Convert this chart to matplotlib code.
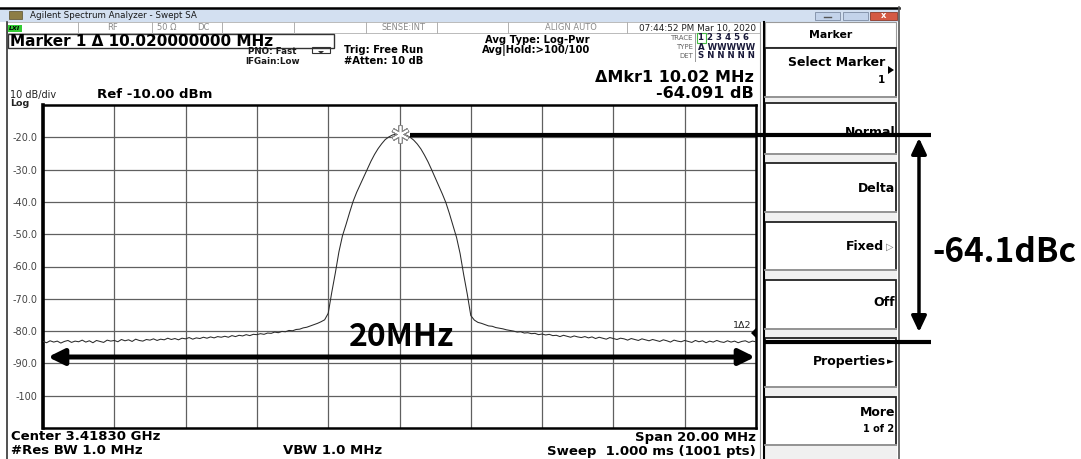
import numpy as np
import matplotlib.pyplot as plt
from matplotlib.patches import Rectangle, Polygon

W, H = 1081, 459

# trace, one point per 0.1 MHz from centre -10 MHz to +10 MHz
level_left = [
    -83.2, -83.6, -83.0, -83.4, -83.1, -83.7, -83.2, -82.9, -83.5, -83.1,
    -83.3, -82.8, -83.4, -83.0, -83.6, -82.9, -83.2, -83.5, -82.8, -83.1,
    -82.9, -83.3, -82.6, -83.0, -82.7, -83.2, -82.5, -82.9, -83.1, -82.6,
    -82.8, -82.4, -82.9, -82.5, -82.7, -82.2, -82.6, -82.3, -82.7, -82.2,
    -82.4, -82.0, -82.5, -82.1, -82.3, -81.9, -82.2, -81.8, -82.1, -81.7,
    -81.9, -81.6, -81.9, -81.4, -81.7, -81.3, -81.5, -81.1, -81.4, -81.0,
    -81.1, -80.8, -81.0, -80.6, -80.7, -80.3, -80.5, -80.1, -80.2, -79.8,
    -79.9, -79.5, -79.4, -79.0, -78.8, -78.4, -78.0, -77.6, -77.1, -76.5,
]
level_main = [
    -74.5, -68.0, -62.0, -55.5, -50.5, -47.0, -43.3, -39.8, -37.0, -34.6,
    -32.2, -29.8, -27.4, -25.3, -23.5, -22.0, -20.7, -19.9, -19.3, -19.0,
    -18.9,
    -19.0, -19.4, -20.0, -20.9, -22.1, -23.6, -25.5, -27.6, -30.0, -32.5,
    -35.0, -37.5, -40.2, -43.6, -47.3, -51.0, -56.0, -62.5, -68.5, -75.2,
]
level_right = [
    -76.6, -77.3, -77.6, -78.0, -78.4, -78.5, -78.9, -79.1, -79.3, -79.6,
    -79.8, -80.0, -80.3, -80.2, -80.6, -80.5, -80.8, -80.7, -81.1, -80.9,
    -81.2, -81.0, -81.4, -81.3, -81.7, -81.3, -81.6, -81.9, -81.5, -81.8,
    -82.0, -81.7, -82.1, -81.8, -82.3, -81.9, -82.2, -82.5, -82.0, -82.3,
    -82.6, -82.2, -82.4, -82.8, -82.3, -82.6, -82.9, -82.4, -82.7, -83.0,
    -82.6, -82.9, -83.2, -82.7, -83.0, -83.4, -82.8, -83.1, -83.3, -82.9,
    -83.2, -83.5, -82.9, -83.3, -83.0, -83.6, -83.1, -83.4, -82.9, -83.3,
    -83.5, -83.0, -83.4, -83.1, -83.6, -83.2, -83.0, -83.5, -83.1, -83.3,
]
level_dbm = level_left + level_main + level_right
freq_mhz = np.linspace(-10, 10, len(level_dbm))   # sweep points are evenly spaced

peak_mhz, peak_dbm = 0.0, -18.9
y_ticks = [-20, -30, -40, -50, -60, -70, -80, -90, -100]
y_tick_labels = ["-20.0", "-30.0", "-40.0", "-50.0", "-60.0", "-70.0", "-80.0", "-90.0", "-100"]

BIG = ["Noto Sans CJK JP", "DejaVu Sans"]

fig = plt.figure(figsize=(W / 100, H / 100), dpi=100)
fig.patch.set_facecolor("white")

# ---- trace window
ax = fig.add_axes([43 / W, 1 - 428 / H, (756 - 43) / W, (428 - 105) / H])
ax.plot(freq_mhz, level_dbm, color="#2a2a2a", lw=0.75, zorder=3)
ax.plot([peak_mhz], [peak_dbm], marker=(6, 2, 0), ms=13, mew=3.2, color="#8a8a8a", zorder=4)
ax.plot([peak_mhz], [peak_dbm], marker=(6, 2, 0), ms=12, mew=1.2, color="white", zorder=5)
ax.set_xlim(-10, 10)
ax.set_ylim(-110, -10)
ax.set_xticks(np.arange(-10, 11, 2))
ax.set_yticks(y_ticks)
ax.set_yticklabels(y_tick_labels, fontsize=7, color="#444444")
ax.tick_params(length=0, pad=4, labelbottom=False)
ax.grid(True, color="#606060", lw=0.9)
ax.set_axisbelow(True)
for s in ax.spines.values():
    s.set_linewidth(1.8)
    s.set_color("black")
ax.spines["left"].set_linewidth(2.6)

# ---- screen chrome + annotations in pixel coords
ov = fig.add_axes([0, 0, 1, 1], zorder=5)
ov.set_xlim(0, W)
ov.set_ylim(H, 0)
ov.axis("off")

def txt(x, y, s, size=8, ha="left", weight="bold", color="black", **kw):
    ov.text(x, y, s, fontsize=size, ha=ha, va="center", fontweight=weight, color=color, **kw)

def box(x0, y0, x1, y1, fc="none", ec="black", lw=1.0, z=1):
    ov.add_patch(Rectangle((x0, y0), x1 - x0, y1 - y0, fc=fc, ec=ec, lw=lw, zorder=z))

# window frame and title bar
ov.plot([0, 899], [7.5, 7.5], color="black", lw=1.8)
box(0, 8.5, 899, 22, fc="#d3e0f1", ec="none")
box(9, 11, 22, 19, fc="#8d7d45", ec="#5a4f2a", lw=0.5)
txt(30, 15.5, "Agilent Spectrum Analyzer - Swept SA", size=6.3, weight="normal", color="#1a1a1a")
box(815, 12, 840, 20, fc="#c3d3ea", ec="#7d8ca3", lw=0.6)
box(843, 12, 868, 20, fc="#c3d3ea", ec="#7d8ca3", lw=0.6)
box(870, 12, 897, 20, fc="#d45a45", ec="#8c3a2c", lw=0.6)
ov.plot([824, 831], [17, 17], color="#555", lw=1)
txt(883.5, 16, "x", size=6, ha="center", color="white")
ov.plot([899, 899], [7, H], color="#555555", lw=1.2)

# status row
box(7, 22, 760, 33, fc="white", ec="#b0b0b0", lw=0.6)
box(8, 24.5, 22, 32, fc="#33cc33", ec="none")
txt(9, 28.5, "LXI", size=4.5, style="italic")
for sx in [78, 152, 222, 294, 366, 437, 508, 627]:
    ov.plot([sx, sx], [22, 33], color="#b0b0b0", lw=0.7)
txt(113, 28, "RF", size=6, ha="center", weight="normal", color="#8a8a8a")
txt(167, 28, "50 Ω", size=6, ha="center", weight="normal", color="#8a8a8a")
txt(203, 28, "DC", size=6, ha="center", weight="normal", color="#8a8a8a")
txt(403, 28, "SENSE:INT", size=6, ha="center", weight="normal", color="#8a8a8a")
txt(571, 28, "ALIGN AUTO", size=6, ha="center", weight="normal", color="#8a8a8a")
txt(756, 28, "07:44:52 PM Mar 10, 2020", size=6.4, ha="right", weight="normal", color="#222222")
ov.plot([7, 7], [22, H], color="#333333", lw=1.2)

# marker line and settings
box(8, 34, 334, 47.5, ec="#333333", lw=1.0)
txt(10, 41, "Marker 1 Δ 10.020000000 MHz", size=11)
txt(272, 52, "PNO: Fast", size=6.3, ha="center", color="#1a1a1a")
txt(273, 62, "IFGain:Low", size=6.3, ha="center", color="#1a1a1a")
ov.add_patch(Rectangle((312, 47), 18, 6, fc="none", ec="#333", lw=0.8))
ov.add_patch(Polygon([[318, 51], [324, 51], [321, 54]], closed=True, fc="#333", ec="none"))
txt(344, 50, "Trig: Free Run", size=7.2)
txt(344, 61, "#Atten: 10 dB", size=7.2)
txt(485, 40, "Avg Type: Log-Pwr", size=7.2)
txt(482, 50, "Avg|Hold:>100/100", size=7.2)

# trace / type / det table
txt(693, 38, "TRACE", size=5, ha="right", weight="normal", color="#666")
txt(693, 47, "TYPE", size=5, ha="right", weight="normal", color="#666")
txt(693, 56, "DET", size=5, ha="right", weight="normal", color="#666")
ov.plot([695, 695], [33, 61], color="#999", lw=0.7)
box(697, 33, 706, 42.5, ec="#44bb44", lw=0.8)
txt(698.5, 38, "1 2 3 4 5 6", size=6.2, color="#1a1a3a")
txt(698.5, 47, "A WWWWW", size=6.2, color="#1a1a3a")
txt(698.5, 56, "S N N N N N", size=6.2, color="#1a1a3a")

# delta marker readout
txt(754, 77, "ΔMkr1 10.02 MHz", size=11.5, ha="right")
txt(754, 93, "-64.091 dB", size=11.5, ha="right")
txt(10, 95, "10 dB/div", size=7, weight="normal", color="#222")
txt(97, 95, "Ref -10.00 dBm", size=9.5)
txt(10, 103.8, "Log", size=6.8, color="#222")

# bottom readouts
txt(11, 437, "Center 3.41830 GHz", size=9.5)
txt(11, 451, "#Res BW 1.0 MHz", size=9.5)
txt(283, 451, "VBW 1.0 MHz", size=9.5)
txt(756, 437, "Span 20.00 MHz", size=9.5, ha="right")
txt(756, 451, "Sweep  1.000 ms (1001 pts)", size=9.5, ha="right")

# delta marker tag on right edge
txt(751, 325, "1Δ2", size=6.8, ha="right", weight="normal", color="#222")
ov.add_patch(Polygon([[751, 333], [757, 327], [757, 339]], closed=True, fc="black", ec="none", zorder=6))

# softkey panel
ov.plot([760, 760], [22, H], color="#9a9a9a", lw=0.8)
ov.plot([764, 764], [22, H], color="black", lw=1.5)
box(764, 22, 897, H, fc="#f0f0f0", ec="none", z=0)
box(765, 22, 896, 47, fc="white", ec="#9a9a9a", lw=0.8)
txt(831, 34.5, "Marker", size=7.8, ha="center")
keys = [(48, 97), (103, 154), (163, 212), (222, 270), (280, 329), (338, 387), (397, 445)]
for (k0, k1) in keys:
    box(765, k0, 896, k1, fc="white", ec="#222222", lw=1.3)
    ov.plot([765, 896], [k1, k1], color="#a0a0a0", lw=1.3)
txt(885, 63, "Select Marker", size=9, ha="right")
ov.add_patch(Polygon([[888, 66], [888, 74], [894, 70]], closed=True, fc="black", ec="none"))
txt(885, 80, "1", size=7.5, ha="right")
txt(895, 132.5, "Normal", size=9, ha="right")
txt(895, 189, "Delta", size=9, ha="right")
txt(884, 247, "Fixed", size=9, ha="right")
txt(886, 247, "▷", size=7, weight="normal", color="#777777")
txt(886, 362, "Properties", size=9, ha="right")
txt(887, 362, "►", size=6.5, weight="normal")
txt(895, 303, "Off", size=9, ha="right")
txt(895, 413, "More", size=9, ha="right")
txt(894, 429, "1 of 2", size=7, ha="right")

# ---- overlay annotations: span and level difference
ov.plot([410, 931], [135, 135], color="black", lw=3.0, solid_capstyle="butt", zorder=7)
ov.plot([765, 931], [342, 342], color="black", lw=3.0, solid_capstyle="butt", zorder=7)
ov.annotate("", xy=(919, 138), xytext=(919, 332),
            arrowprops=dict(arrowstyle="<|-|>,head_length=0.95,head_width=0.45",
                            lw=2.5, color="black", shrinkA=0, shrinkB=0, mutation_scale=10), zorder=7)
ov.annotate("", xy=(48, 357), xytext=(755, 357),
            arrowprops=dict(arrowstyle="<|-|>,head_length=0.95,head_width=0.47",
                            lw=3.6, color="black", shrinkA=0, shrinkB=0, mutation_scale=10), zorder=7)
ov.text(402, 337, "20MHz", fontsize=23, fontweight="bold", family=BIG,
        ha="center", va="center", zorder=8)
ov.text(1004, 253, "-64.1dBc", fontsize=24, fontweight="bold", family=BIG,
        ha="center", va="center", zorder=8)

fig.savefig("out.png", dpi=100)
